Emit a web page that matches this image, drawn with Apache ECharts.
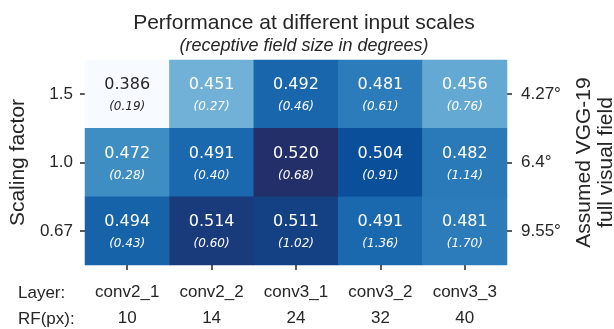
<!DOCTYPE html>
<html>
<head>
<meta charset="utf-8">
<script src="https://cdn.jsdelivr.net/npm/echarts@6/dist/echarts.min.js"></script>
<style>html,body{margin:0;padding:0;background:#fff;}#c{width:614px;height:329px;}</style>
</head>
<body>
<div id="c"></div>
<script>
const layers = ['conv2_1', 'conv2_2', 'conv3_1', 'conv3_2', 'conv3_3'];
const rfPx = [10, 14, 24, 32, 40];
const scales = ['1.5', '1.0', '0.67'];
const degrees = ['4.27°', '6.4°', '9.55°'];
const perf = [
  [0.386, 0.451, 0.492, 0.481, 0.456],
  [0.472, 0.491, 0.520, 0.504, 0.482],
  [0.494, 0.514, 0.511, 0.491, 0.481]
];
const rfDeg = [
  [0.19, 0.27, 0.46, 0.61, 0.76],
  [0.28, 0.40, 0.68, 0.91, 1.14],
  [0.43, 0.60, 1.02, 1.36, 1.70]
];

const vmin = 0.386, vmax = 0.520;
const data = [];
perf.forEach((row, yi) => row.forEach((v, xi) => {
  const dark = (v - vmin) / (vmax - vmin) < 0.3;
  data.push({
    value: [xi, yi, v, rfDeg[yi][xi]],
    label: { rich: {
      v: { color: dark ? '#262626' : '#ffffff' },
      p: { color: dark ? '#262626' : '#ffffff' }
    } }
  });
}));

const SANS = '"Liberation Sans", Arial, sans-serif';
const TXT = '#262626';
const chart = echarts.init(document.getElementById('c'), null, { renderer: 'canvas' });
chart.setOption({
  animation: false,
  backgroundColor: '#ffffff',
  title: {
    text: 'Performance at different input scales',
    subtext: '(receptive field size in degrees)',
    left: 299, textAlign: 'center', top: 8, itemGap: 3,
    textStyle: { fontFamily: SANS, fontSize: 21, fontWeight: 'normal', color: TXT },
    subtextStyle: { fontFamily: SANS, fontSize: 18, fontStyle: 'italic', color: TXT }
  },
  grid: { left: 85, right: 107, top: 60, bottom: 64, outerBoundsMode: 'none', containLabel: false },
  visualMap: {
    show: false, type: 'continuous', min: vmin, max: vmax, dimension: 2,
    inRange: { color: ['#f7fbff', '#deebf7', '#c6dbef', '#9ecae1', '#6baed6', '#4292c6', '#2171b5', '#08519c', '#222f68'] }
  },
  xAxis: {
    type: 'category', data: layers,
    axisLine: { show: false },
    axisTick: { show: true, alignWithLabel: true, length: 5, lineStyle: { color: TXT, width: 1.5 } },
    splitLine: { show: false },
    axisLabel: {
      interval: 0, margin: 14, fontFamily: SANS, fontSize: 17, color: TXT, lineHeight: 26,
      formatter: (val, idx) => val + '\n' + rfPx[idx]
    }
  },
  yAxis: [
    {
      type: 'category', data: scales, inverse: true,
      name: 'Scaling factor', nameLocation: 'middle', nameGap: 56, nameRotate: 90,
      nameTextStyle: { fontFamily: SANS, fontSize: 21, color: TXT },
      axisLine: { show: false },
      axisTick: { show: true, alignWithLabel: true, length: 5, lineStyle: { color: TXT, width: 1.5 } },
      axisLabel: { interval: 0, margin: 12, fontFamily: SANS, fontSize: 17, color: TXT },
      splitLine: { show: false }
    },
    {
      type: 'category', data: degrees, inverse: true, position: 'right',
      name: 'Assumed VGG-19\nfull visual field', nameLocation: 'middle', nameGap: 66, nameRotate: 90,
      nameTextStyle: { fontFamily: SANS, fontSize: 21, color: TXT, lineHeight: 22 },
      axisLine: { show: false },
      axisTick: { show: true, alignWithLabel: true, length: 5, lineStyle: { color: TXT, width: 1.5 } },
      axisLabel: { interval: 0, margin: 14, fontFamily: SANS, fontSize: 17, color: TXT },
      splitLine: { show: false }
    }
  ],
  graphic: [
    { type: 'text', left: 18, top: 285, style: { text: 'Layer:', font: '17px ' + SANS, fill: TXT } },
    { type: 'text', left: 18, top: 311, style: { text: 'RF(px):', font: '17px ' + SANS, fill: TXT } }
  ],
  series: [{
    type: 'heatmap', data: data,
    itemStyle: { borderWidth: 0 },
    label: {
      show: true, offset: [0, 2],
      formatter: p => '{v|' + p.value[2].toFixed(3) + '}\n{p|(' + p.value[3].toFixed(2) + ')}',
      rich: {
        v: { fontFamily: '"DejaVu Sans", sans-serif', fontSize: 16, lineHeight: 22 },
        p: { fontFamily: '"DejaVu Sans", sans-serif', fontSize: 12, fontStyle: 'italic', lineHeight: 22 }
      }
    },
    emphasis: { disabled: true }
  }]
});
</script>
</body>
</html>
